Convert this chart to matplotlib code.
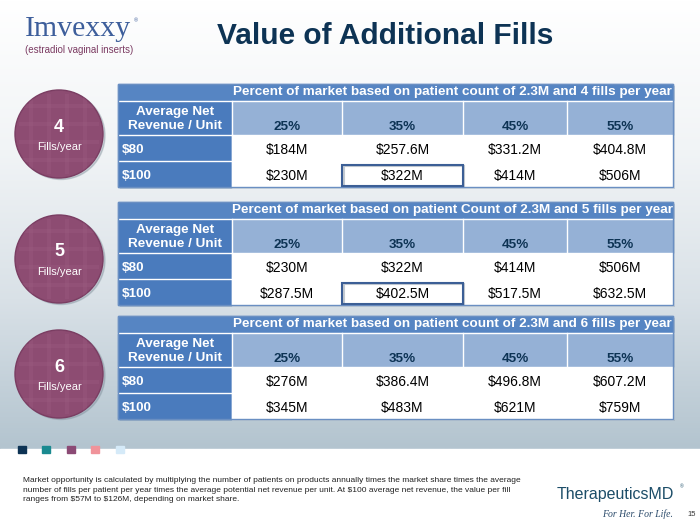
import numpy as np
import matplotlib.pyplot as plt
from matplotlib.patches import Rectangle, Circle
from matplotlib.colors import LinearSegmentedColormap

# table content
fills = ["4", "5", "6"]
table_titles = [
    "Percent of market based on patient count of 2.3M and 4 fills per year",
    "Percent of market based on patient Count of 2.3M and 5 fills per year",
    "Percent of market based on patient count of 2.3M and 6 fills per year",
]
shares = ["25%", "35%", "45%", "55%"]
revenue = ["$80", "$100"]
values_4 = [["$184M", "$257.6M", "$331.2M", "$404.8M"],
            ["$230M", "$322M", "$414M", "$506M"]]
values_5 = [["$230M", "$322M", "$414M", "$506M"],
            ["$287.5M", "$402.5M", "$517.5M", "$632.5M"]]
values_6 = [["$276M", "$386.4M", "$496.8M", "$607.2M"],
            ["$345M", "$483M", "$621M", "$759M"]]
highlight = [(1, 1), (1, 1), None]  # (row, col) boxed cell per table

footnote = ("Market opportunity is calculated by multiplying the number of patients on products annually times the market share times the average\n"
            "number of fills per patient per year times the average potential net revenue per unit. At \\$100 average net revenue, the value per fill\n"
            "ranges from \\$57M to \\$126M, depending on market share.")

plt.rcParams['font.family'] = ['Liberation Sans', 'DejaVu Sans']

navy = "#0d3354"
blue_dark = "#4a7bbd"
blue_title = "#5685c3"
blue_light = "#95b1d6"
plum = "#8d4c72"

fig = plt.figure(figsize=(7, 5.24), dpi=100)
ax = fig.add_axes([0, 0, 1, 1])
ax.set_xlim(0, 700)
ax.set_ylim(524, 0)
ax.axis("off")

# background gradient
cmap = LinearSegmentedColormap.from_list("bg", ["#ffffff", "#f1f4f6", "#d9e1e7", "#b3c4cf"])
grad = np.linspace(0, 1, 256).reshape(-1, 1)
ax.imshow(grad, cmap=cmap, extent=[0, 700, 449, 0], aspect="auto", zorder=0)
ax.add_patch(Rectangle((0, 449), 700, 75, color="white", zorder=0))

# logo + title
ax.text(25, 36, "Imvexxy", family="Liberation Serif", fontsize=21.5, color="#3d5e9b", va="baseline")
ax.text(134, 22, "®", fontsize=4, color="#3d5e9b")
ax.text(25, 50, "(estradiol vaginal inserts)", family=["Liberation Sans Narrow", "Liberation Sans"],
        fontsize=7, color="#7b3b62", va="center")
ax.text(385, 36, "Value of Additional Fills", fontsize=21.5, fontweight="bold", color=navy,
        ha="center", va="center")

col_x = [118, 232, 342, 463, 567, 673]
tops = [84, 202, 316]
circle_y = [134, 259, 374]
all_values = [values_4, values_5, values_6]

for t in range(3):
    top = tops[t]
    rows_y = [top, top + 17, top + 51, top + 77, top + 103]
    left, right = col_x[0], col_x[-1]
    # shadow
    ax.add_patch(Rectangle((left + 2, top + 2), right - left, rows_y[-1] - top,
                           color="#8a9aa8", alpha=0.35, zorder=1, lw=0))
    # title row
    ax.add_patch(Rectangle((left, rows_y[0]), right - left, 17, color=blue_title, zorder=2))
    ax.text((col_x[1] + right) / 2, rows_y[0] + 8.5, table_titles[t], color="white",
            fontsize=9.7, fontweight="bold", ha="center", va="center", zorder=5)
    # header row
    ax.add_patch(Rectangle((left, rows_y[1]), col_x[1] - left, 34, color=blue_dark, zorder=2))
    ax.text((left + col_x[1]) / 2, rows_y[1] + 18, "Average Net\nRevenue / Unit", color="white",
            fontsize=9.7, fontweight="bold", ha="center", va="center", linespacing=1.25, zorder=5)
    for j, s in enumerate(shares):
        ax.add_patch(Rectangle((col_x[j + 1], rows_y[1]), col_x[j + 2] - col_x[j + 1], 34,
                               color=blue_light, zorder=2))
        ax.text((col_x[j + 1] + col_x[j + 2]) / 2, rows_y[1] + 26, s, color=navy,
                fontsize=9.7, fontweight="bold", ha="center", va="center", zorder=5)
    # data rows
    for i, r in enumerate(revenue):
        y0 = rows_y[2 + i]
        ax.add_patch(Rectangle((left, y0), col_x[1] - left, 26, color=blue_dark, zorder=2))
        ax.add_patch(Rectangle((col_x[1], y0), right - col_x[1], 26, color="white", zorder=2))
        ax.text(left + 4, y0 + 15, r, color="white", fontsize=9.7, fontweight="bold",
                ha="left", va="center", zorder=5)
        for j in range(4):
            ax.text((col_x[j + 1] + col_x[j + 2]) / 2, y0 + 15, all_values[t][i][j],
                    color="black", fontsize=10, ha="center", va="center", zorder=5)
    # white grid lines in blue parts
    for y in rows_y[1:4]:
        ax.plot([left, col_x[1] if y != rows_y[1] else right], [y, y], color="white", lw=1, zorder=3)
    for x in col_x[1:5]:
        ax.plot([x, x], [rows_y[1], rows_y[2]], color="white", lw=1, zorder=3)
    ax.plot([col_x[1], col_x[1]], [rows_y[2], rows_y[4]], color="white", lw=1, zorder=3)
    # outer border
    ax.add_patch(Rectangle((left, top), right - left, rows_y[-1] - top, fill=False,
                           edgecolor="#6a8fc2", lw=1, zorder=4))
    # boxed cell
    if highlight[t] is not None:
        i, j = highlight[t]
        y0 = rows_y[2 + i]
        ax.add_patch(Rectangle((col_x[j + 1] + 2, y0 + 5), col_x[j + 2] - col_x[j + 1] - 1, 21,
                               fill=False, edgecolor="#8896a4", lw=1.5, alpha=0.5, zorder=3))
        ax.add_patch(Rectangle((col_x[j + 1], y0 + 4), col_x[j + 2] - col_x[j + 1], 21,
                               fill=False, edgecolor="#3c5f96", lw=1.5, zorder=4))

    # fills circle
    cy = circle_y[t]
    ax.add_patch(Circle((61, cy + 1.5), 44, color="#7d8c99", alpha=0.35, zorder=1))
    disc = Circle((59, cy), 44, facecolor=plum, edgecolor="#7a3d62", lw=1, zorder=2)
    ax.add_patch(disc)
    for k in (-28, -10, 8, 26):
        ax.plot([59 - 40, 59 + 40], [cy + k, cy + k], color="#9d5d82", lw=3, alpha=0.35, zorder=2.5,
                solid_capstyle="butt", clip_path=disc)
        ax.plot([59 + k, 59 + k], [cy - 40, cy + 40], color="#9d5d82", lw=3, alpha=0.35, zorder=2.5,
                solid_capstyle="butt", clip_path=disc)
    ax.text(59, cy - 7, fills[t], color="white", fontsize=13, fontweight="bold",
            ha="center", va="center", zorder=5)
    ax.text(59, cy + 13, "Fills/year", color="white", fontsize=8, ha="center", va="center", zorder=5)

# small colored squares
sq_colors = ["#0d3354", "#1a8a90", "#8b4a75", "#f0939a", "#d5eaf8"]
sq_x = [18, 42, 67, 91, 116]
for x, c in zip(sq_x, sq_colors):
    ax.add_patch(Rectangle((x, 446), 8, 7, color=c, zorder=3))

# footnote and footer
ax.text(23, 490, footnote, fontsize=6, color="#222222", ha="left", va="center", linespacing=1.45)
ax.text(557, 494, "TherapeuticsMD", fontsize=11.5, color="#1c4d68", ha="left", va="center")
ax.text(680, 487, "®", fontsize=3.5, color="#1c4d68", ha="left", va="center")
ax.text(673, 514, "For Her. For Life.", family="Liberation Serif", style="italic", fontsize=7,
        color="#2a4a6a", ha="right", va="center")
ax.text(687, 514, "15", fontsize=5.5, color="#333333", ha="left", va="center")

fig.savefig("out.png", dpi=100)
